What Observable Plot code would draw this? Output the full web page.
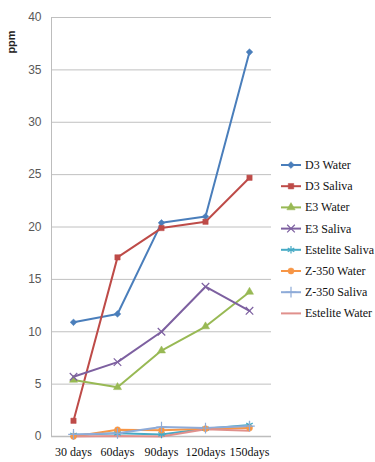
<!DOCTYPE html>
<html>
<head>
<meta charset="utf-8">
<script src="https://cdn.jsdelivr.net/npm/d3@7"></script>
<script src="https://cdn.jsdelivr.net/npm/@observablehq/plot@0.6"></script>
<style>
  html, body { margin: 0; padding: 0; background: #fff; }
  #chart { position: relative; width: 375px; height: 462px; }
  .serif, .serif text { font-family: "Times New Roman", "Liberation Serif", "DejaVu Serif", serif !important; }
</style>
</head>
<body>
<div id="chart"></div>
<script>
const days = ["30 days", "60days", "90days", "120days", "150days"];
const seriesNames = ["D3 Water", "D3 Saliva", "E3 Water", "E3 Saliva", "Estelite Saliva", "Z-350 Water", "Z-350 Saliva", "Estelite Water"];
const d3Water = [10.9, 11.7, 20.4, 21.0, 36.7];
const d3Saliva = [1.5, 17.1, 19.9, 20.5, 24.7];
const e3Water = [5.4, 4.7, 8.2, 10.5, 13.8];
const e3Saliva = [5.7, 7.1, 10.0, 14.3, 12.0];
const esteliteSaliva = [0.15, 0.3, 0.2, 0.75, 1.1];
const z350Water = [0.0, 0.65, 0.6, 0.75, 0.8];
const z350Saliva = [0.2, 0.3, 0.9, 0.8, 1.0];
const esteliteWater = [0.0, 0.05, 0.0, 0.7, 0.55];
const yTicks = [0, 5, 10, 15, 20, 25, 30, 35, 40];

const colors = ["#4a7ebb", "#be4b48", "#98b954", "#7d60a0", "#46aac5", "#f79646", "#8eabd8", "#e0908c"];
const symbols = ["diamond2", "square", "triangle", "times", "asterisk", "circle", "plus", null];
const filled = [true, true, true, false, false, true, false, false];
const values = [d3Water, d3Saliva, e3Water, e3Saliva, esteliteSaliva, z350Water, z350Saliva, esteliteWater];

const data = [];
seriesNames.forEach((s, i) => values[i].forEach((v, j) => data.push({series: s, day: days[j], value: v})));

const marks = [
  Plot.ruleY(yTicks.slice(1), {stroke: "#c0c0c0", strokeWidth: 1}),
  Plot.ruleX([days[0]], {stroke: "#bdbdbd", strokeWidth: 1, dx: -22, y1: 0, y2: 40}),
  Plot.ruleY([0], {stroke: "#bdbdbd", strokeWidth: 1.5})
];
seriesNames.forEach((s, i) => {
  const d = data.filter(r => r.series === s);
  marks.push(Plot.line(d, {x: "day", y: "value", stroke: colors[i], strokeWidth: 2}));
});
seriesNames.forEach((s, i) => {
  if (!symbols[i]) return;
  const d = data.filter(r => r.series === s);
  marks.push(Plot.dot(d, {
    x: "day", y: "value", symbol: () => symbols[i],
    r: symbols[i] === "times" || symbols[i] === "asterisk" || symbols[i] === "plus" ? 3.5 : 3,
    fill: filled[i] ? colors[i] : "none",
    stroke: colors[i], strokeWidth: filled[i] ? 0.5 : 1.2
  }));
});

const chart = Plot.plot({
  width: 375,
  height: 462,
  marginLeft: 51,
  marginRight: 104,
  marginTop: 17,
  marginBottom: 26,
  style: {background: "#fff", overflow: "visible"},
  x: {type: "point", domain: days, padding: 0.5, label: null},
  y: {domain: [0, 40], ticks: yTicks, label: null},
  symbol: {type: "identity"},
  marks: [
    ...marks,
    Plot.axisY({ticks: yTicks, tickSize: 0, tickPadding: 10, fontSize: 12, fill: "#595959",
      fontFamily: "Liberation Sans, Arial, sans-serif", label: null}),
    Plot.axisX({tickSize: 0, tickPadding: 11, fontSize: 12, fill: "#111",
      fontFamily: "Times New Roman, serif", className: "serif", label: null})
  ]
});
document.getElementById("chart").appendChild(chart);

const svg = d3.select(chart);
svg.append("text")
  .attr("transform", "translate(15,42) rotate(-90)")
  .attr("text-anchor", "middle")
  .attr("font-family", "Liberation Sans, Arial, sans-serif")
  .attr("font-weight", "bold")
  .attr("font-size", 11)
  .attr("fill", "#222")
  .text("ppm");

const symMap = {diamond2: d3.symbolDiamond2, square: d3.symbolSquare, triangle: d3.symbolTriangle,
  times: d3.symbolTimes, asterisk: d3.symbolAsterisk, circle: d3.symbolCircle, plus: d3.symbolPlus};
const leg = svg.append("g").attr("transform", "translate(281,165)").attr("text-anchor", "start").attr("class", "serif");
seriesNames.forEach((s, i) => {
  const g = leg.append("g").attr("transform", `translate(0,${i * 21.2})`);
  g.append("line").attr("x1", 0).attr("x2", 20).attr("y1", 0).attr("y2", 0)
    .attr("stroke", colors[i]).attr("stroke-width", 2);
  if (symbols[i]) {
    const area = (symbols[i] === "times" || symbols[i] === "asterisk" || symbols[i] === "plus") ? 40 : 30;
    g.append("path").attr("transform", "translate(10,0)")
      .attr("d", d3.symbol(symMap[symbols[i]], area)())
      .attr("fill", filled[i] ? colors[i] : "none")
      .attr("stroke", colors[i]).attr("stroke-width", filled[i] ? 0.5 : 1.2);
  }
  g.append("text").attr("x", 24).attr("y", 4).attr("text-anchor", "start")
    .style("font-family", "'Times New Roman', 'Liberation Serif', 'DejaVu Serif', serif")
    .attr("font-size", 12).attr("fill", "#111").text(s);
});
</script>
</body>
</html>
